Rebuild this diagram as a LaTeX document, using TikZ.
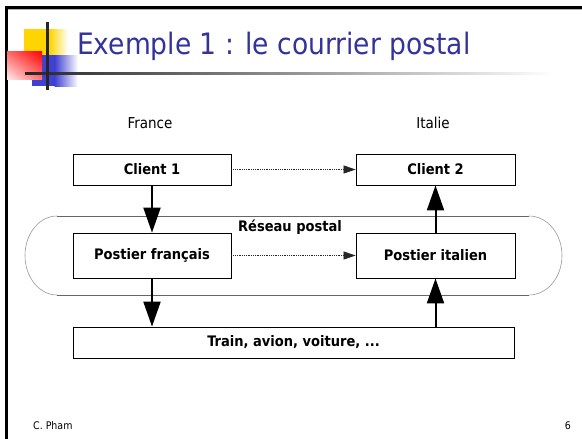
\documentclass[tikz,border=0pt]{standalone}
\usepackage{fontspec}
\setmainfont{DejaVu Sans Condensed}
\usetikzlibrary{arrows.meta,calc,shadings}
\definecolor{titleblue}{RGB}{51,51,153}
\definecolor{logoyellow}{RGB}{255,212,0}
\definecolor{logoblue}{RGB}{64,64,210}
\definecolor{logored}{RGB}{255,0,0}
\tikzset{
  box/.style={draw=black, line width=0.8pt, rectangle, inner sep=0pt,
    font=\fontsize{14.5}{16}\selectfont\bfseries},
  bigarrow/.style={line width=2pt, -{Triangle[length=25pt,width=17pt]}},
  msgarrow/.style={line width=0.7pt, black!85, dash pattern=on 1pt off 0.8pt,
    -{Triangle[length=12pt,width=8pt]}},
  netline/.style={line width=0.8pt, black!60},
  netarc/.style={line width=0.6pt, black!40},
  country/.style={font=\fontsize{15}{17}\selectfont},
  footer/.style={font=\fontsize{10.5}{12}\selectfont, inner sep=0pt}
}
\begin{document}
\begin{tikzpicture}[x=1pt,y=-1pt]
\useasboundingbox (0,0) rectangle (582,439);
\fill[white] (0,0) rectangle (582,439);

% slide frame
\fill[black!30] (7.5,9) rectangle (582,10.2);
\fill[black] (5,6) rectangle (582,9);
\fill[black] (5,6) rectangle (7.5,439);

% title logo
\fill[logoyellow] (24,29) rectangle (50,55);
\shade[left color=logoyellow, right color=white] (49.5,29) rectangle (68,55);
\fill[logoblue] (32,55) rectangle (55,86);
\shade[left color=logoblue, right color=white] (54.5,55) rectangle (78,86);
\shade[upper right=logored, upper left=logored!60!white,
       lower right=logored!55!white, lower left=logored!8!white] (7,51) rectangle (42,79);
\shade[left color=black!85, middle color=black!55, right color=white] (25,72) rectangle (555,74.5);
\fill[black!85] (46,22) rectangle (49,90);

% title
\node[anchor=base west, inner sep=0pt, text=titleblue, font=\fontsize{29.5}{33}\selectfont]
  (title) at (77,54) {Exemple 1 : le courrier postal};

% countries
\node[country] (fr) at (150,123) {France};
\node[country] (it) at (433,123) {Italie};

% postal network outline
\draw[netline] (57,216) -- (529,216);
\draw[netline] (529,295) -- (57,295);
\draw[netarc] (529,216) arc[start angle=-90, end angle=90, x radius=33, y radius=39.5];
\draw[netarc] (57,295) arc[start angle=90, end angle=270, x radius=32, y radius=39.5];
\node[font=\fontsize{14.5}{16}\selectfont\bfseries, inner sep=0pt] (net) at (290,227) {Réseau postal};

% boxes
\node[box, minimum width=158pt, minimum height=31pt] (c1) at (152,169.5) {Client 1};
\node[box, minimum width=159pt, minimum height=31pt] (c2) at (435.5,169.5) {Client 2};
\node[box, minimum width=158pt, minimum height=45pt] (pf) at (152,255.5) {Postier français};
\node[box, minimum width=159pt, minimum height=45pt] (pi) at (435.5,255.5) {Postier italien};
\node[box, minimum width=441pt, minimum height=31pt] (tr) at (293.5,342.5) {Train, avion, voiture, ...};

% flows
\draw[msgarrow] (c1.east) -- (c2.west);
\draw[msgarrow] (pf.east) -- (pi.west);
\draw[bigarrow] (c1.south) -- (pf.north);
\draw[bigarrow] (pf.south) -- (tr.north -| pf.south);
\draw[bigarrow] (tr.north -| pi.south) -- (pi.south);
\draw[bigarrow] (pi.north) -- (c2.south);

% footer
\node[footer, anchor=west] (author) at (33,426) {C. Pham};
\node[footer, anchor=east] (page) at (571,426) {6};
\end{tikzpicture}
\end{document}
